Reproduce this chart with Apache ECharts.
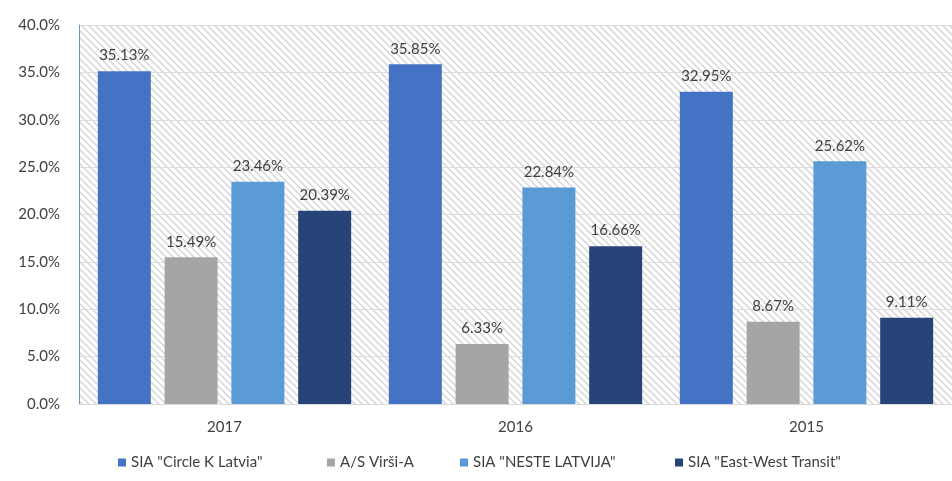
<!DOCTYPE html>
<html>
<head>
<meta charset="utf-8">
<script src="https://cdn.jsdelivr.net/npm/echarts@6/dist/echarts.min.js"></script>
<style>
  html, body { margin: 0; padding: 0; background: #fff; }
  #chart { width: 952px; height: 481px; }
</style>
</head>
<body>
<div id="chart"></div>
<script>
const years = ['2017', '2016', '2015'];
const seriesNames = ['SIA "Circle K Latvia"', 'A/S Virši-A', 'SIA "NESTE LATVIJA"', 'SIA "East-West Transit"'];
const circleK = [35.13, 35.85, 32.95];
const virsi = [15.49, 6.33, 8.67];
const neste = [23.46, 22.84, 25.62];
const eastWest = [20.39, 16.66, 9.11];
const colors = ['#4472C4', '#A5A5A5', '#5B9BD5', '#264478'];
// where each legend entry starts, to match the picture
const legendLefts = [113, 322, 455, 670];

// hatched plot background
const hatch = document.createElement('canvas');
hatch.width = 7;
hatch.height = 7;
const hctx = hatch.getContext('2d');
hctx.fillStyle = '#ffffff';
hctx.fillRect(0, 0, 7, 7);
hctx.strokeStyle = '#d2d2d2';
hctx.lineWidth = 1.3;
hctx.beginPath();
hctx.moveTo(-1, -1); hctx.lineTo(8, 8);
hctx.moveTo(-8, -1); hctx.lineTo(1, 8);
hctx.moveTo(6, -1); hctx.lineTo(15, 8);
hctx.stroke();

const chart = echarts.init(document.getElementById('chart'));

function makeSeries(name, data, color) {
    return {
        name: name,
        type: 'bar',
        data: data,
        barWidth: 53,
        barGap: '26%',
        itemStyle: { color: color },
        label: {
            show: true,
            position: 'top',
            distance: 8,
            formatter: p => p.value.toFixed(2) + '%',
            color: '#404040',
            fontFamily: 'Lato',
            fontSize: 15
        }
    };
}

const option = {
    animation: false,
    textStyle: { fontFamily: 'Lato' },
    grid: {
        left: 79,
        right: 0,
        top: 25,
        bottom: 77,
        show: true,
        borderWidth: 0,
        backgroundColor: { image: hatch, repeat: 'repeat' }
    },
    legend: seriesNames.map((n, i) => ({
        data: [n],
        bottom: 6,
        left: legendLefts[i],
        itemWidth: 8,
        itemHeight: 8,
        itemGap: 5,
        icon: 'rect',
        textStyle: { color: '#404040', fontSize: 15, fontFamily: 'Lato' }
    })),
    xAxis: {
        type: 'category',
        data: years,
        axisLine: { show: true, lineStyle: { color: '#d9d9d9' } },
        axisTick: { show: false },
        axisLabel: { color: '#404040', fontSize: 15, margin: 16 }
    },
    yAxis: {
        type: 'value',
        min: 0,
        max: 40,
        interval: 5,
        axisLine: { show: true, lineStyle: { color: '#6f8fc8', width: 1 } },
        axisTick: { show: false },
        axisLabel: {
            color: '#404040',
            fontSize: 15,
            margin: 19,
            formatter: v => v.toFixed(1) + '%'
        },
        splitLine: { lineStyle: { color: '#dcdcdc', width: 1 } }
    },
    series: [
        makeSeries(seriesNames[0], circleK, colors[0]),
        makeSeries(seriesNames[1], virsi, colors[1]),
        makeSeries(seriesNames[2], neste, colors[2]),
        makeSeries(seriesNames[3], eastWest, colors[3])
    ]
};
chart.setOption(option);
</script>
</body>
</html>
